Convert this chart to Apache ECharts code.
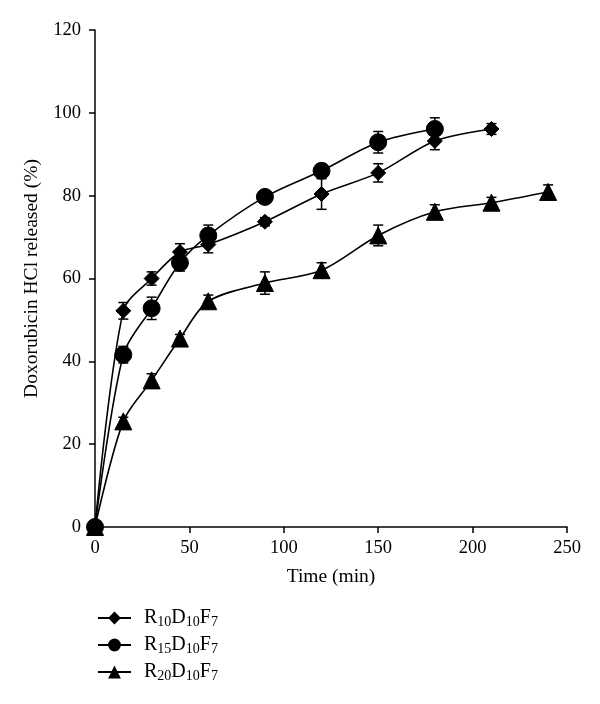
<!DOCTYPE html>
<html>
<head>
<meta charset="utf-8">
<script src="https://cdn.jsdelivr.net/npm/echarts@6/dist/echarts.min.js"></script>
<style>html,body{margin:0;padding:0;background:#fff;}#c{width:600px;height:704px;}</style>
</head>
<body>
<div id="c"></div>
<script>
// Data
var timeR10 = [0, 15, 30, 45, 60, 90, 120, 150, 180, 210];
var valR10  = [0, 52.2, 60.0, 66.4, 68.2, 73.7, 80.4, 85.5, 93.2, 96.1];
var errR10  = [0, 2.0, 1.6, 2.0, 2.0, 1.0, 3.7, 2.2, 2.1, 1.3];

var timeR15 = [0, 15, 30, 45, 60, 90, 120, 150, 180];
var valR15  = [0, 41.6, 52.8, 63.8, 70.4, 79.7, 86.0, 92.9, 96.1];
var errR15  = [0, 2.0, 2.7, 2.0, 2.5, 1.0, 1.6, 2.6, 2.7];

var timeR20 = [0, 15, 30, 45, 60, 90, 120, 150, 180, 210, 240];
var valR20  = [0, 25.5, 35.4, 45.5, 54.5, 58.9, 62.0, 70.4, 76.1, 78.3, 80.9];
var errR20  = [0, 1.0, 1.6, 1.0, 1.5, 2.7, 1.8, 2.5, 1.7, 1.3, 1.7];

var seriesNames = ['R10D10F7', 'R15D10F7', 'R20D10F7'];
var legendRich = {
  'R10D10F7': '{f|R}{s|10}{n|D}{s|10}{n|F}{s|7}',
  'R15D10F7': '{f|R}{s|15}{n|D}{s|10}{n|F}{s|7}',
  'R20D10F7': '{f|R}{s|20}{n|D}{s|10}{n|F}{s|7}'
};
var xTicks = [0, 50, 100, 150, 200, 250];
var yTicks = [0, 20, 40, 60, 80, 100, 120];

var FONT = 'Liberation Serif';

function pairs(xs, ys) { return xs.map(function (x, i) { return [x, ys[i]]; }); }
function errData(xs, ys, es) { return xs.map(function (x, i) { return [x, ys[i], es[i]]; }); }

function errRender(params, api) {
  var x = api.value(0), y = api.value(1), e = api.value(2);
  if (!e) return null;
  var hi = api.coord([x, y + e]);
  var lo = api.coord([x, y - e]);
  var w = 5;
  var st = { stroke: '#000', lineWidth: 1.5 };
  return {
    type: 'group',
    children: [
      { type: 'line', shape: { x1: hi[0], y1: hi[1], x2: lo[0], y2: lo[1] }, style: st },
      { type: 'line', shape: { x1: hi[0] - w, y1: hi[1], x2: hi[0] + w, y2: hi[1] }, style: st },
      { type: 'line', shape: { x1: lo[0] - w, y1: lo[1], x2: lo[0] + w, y2: lo[1] }, style: st }
    ]
  };
}

function lineSeries(name, xs, ys, symbol, size) {
  return {
    name: name, type: 'line', data: pairs(xs, ys), smooth: 0.3,
    symbol: symbol, symbolSize: size, showAllSymbol: true,
    lineStyle: { color: '#000', width: 1.6 },
    itemStyle: { color: '#000', borderColor: '#000' },
    z: 3, animation: false
  };
}
function errSeries(xs, ys, es) {
  return { type: 'custom', renderItem: errRender, data: errData(xs, ys, es), z: 2, silent: true, animation: false, encode: { x: 0, y: 1 } };
}

var chart = echarts.init(document.getElementById('c'), null, { renderer: 'canvas' });
chart.setOption({
  animation: false,
  backgroundColor: '#fff',
  grid: { left: 95, right: 33, top: 30, bottom: 177, containLabel: false },
  xAxis: {
    type: 'value', min: xTicks[0], max: xTicks[xTicks.length - 1], interval: 50,
    name: 'Time (min)', nameLocation: 'middle', nameGap: 40,
    nameTextStyle: { fontFamily: FONT, fontSize: 19.5, color: '#000' },
    axisLine: { show: true, lineStyle: { color: '#000', width: 1.5 } },
    axisTick: { show: true, inside: false, length: 6, lineStyle: { color: '#000', width: 1.5 } },
    axisLabel: { fontFamily: FONT, fontSize: 18.5, color: '#000', margin: 12 },
    splitLine: { show: false }
  },
  yAxis: {
    type: 'value', min: yTicks[0], max: yTicks[yTicks.length - 1], interval: 20,
    name: 'Doxorubicin HCl released (%)', nameLocation: 'middle', nameGap: 50,
    nameTextStyle: { fontFamily: FONT, fontSize: 19.5, color: '#000' },
    axisLine: { show: true, lineStyle: { color: '#000', width: 1.5 } },
    axisTick: { show: true, inside: false, length: 6, lineStyle: { color: '#000', width: 1.5 } },
    axisLabel: { fontFamily: FONT, fontSize: 18.5, color: '#000', margin: 14 },
    splitLine: { show: false }
  },
  legend: {
    data: seriesNames,
    orient: 'vertical', left: 92, top: 603, itemWidth: 33, itemHeight: 16, itemGap: 5.5,
    formatter: function (n) { return legendRich[n]; },
    textStyle: {
      fontFamily: FONT, color: '#000', fontSize: 20,
      rich: {
        f: { fontFamily: FONT, color: '#000', fontSize: 20, lineHeight: 23, verticalAlign: 'middle', padding: [0, 0, 0, 8] },
        n: { fontFamily: FONT, color: '#000', fontSize: 20, lineHeight: 23, verticalAlign: 'middle' },
        s: { fontFamily: FONT, color: '#000', fontSize: 14, lineHeight: 14, verticalAlign: 'bottom' }
      }
    }
  },
  series: [
    errSeries(timeR10, valR10, errR10),
    errSeries(timeR15, valR15, errR15),
    errSeries(timeR20, valR20, errR20),
    lineSeries(seriesNames[0], timeR10, valR10, 'diamond', 15),
    lineSeries(seriesNames[1], timeR15, valR15, 'circle', 17),
    lineSeries(seriesNames[2], timeR20, valR20, 'triangle', 17)
  ]
});
</script>
</body>
</html>
